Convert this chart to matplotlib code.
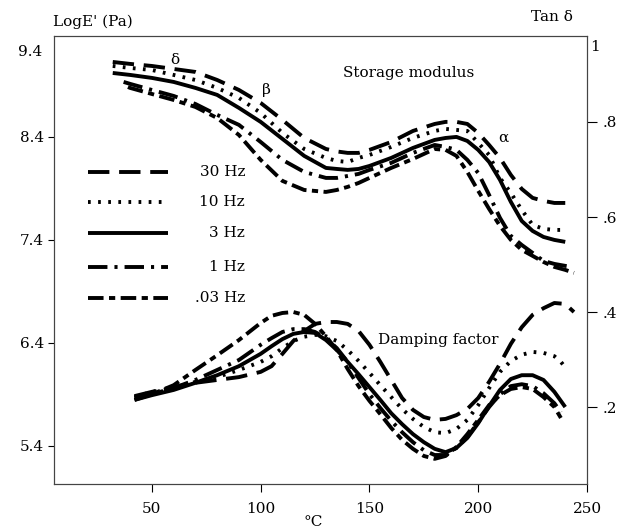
import matplotlib
matplotlib.use("Agg")
import matplotlib.pyplot as plt

# ---------------- data ----------------
# Storage modulus, log E' (Pa)  -- left axis
x_store = [32, 40, 50, 60, 70, 80, 90, 100, 110, 120, 130, 135, 140, 145, 150, 160, 170, 180,
           185, 190, 195, 200, 205, 210, 215, 220, 225, 230, 235, 240]
E_30 = [9.128, 9.109, 9.089, 9.060, 9.031, 8.953, 8.856, 8.730, 8.565, 8.390, 8.283, 8.259,
        8.245, 8.245, 8.274, 8.351, 8.458, 8.526, 8.546, 8.546, 8.526, 8.439, 8.322, 8.196,
        8.031, 7.895, 7.808, 7.779, 7.759, 7.759]
E_10 = [9.089, 9.070, 9.050, 9.002, 8.953, 8.876, 8.779, 8.633, 8.439, 8.283, 8.196, 8.167,
        8.157, 8.196, 8.225, 8.303, 8.390, 8.458, 8.478, 8.468, 8.458, 8.342, 8.225, 8.002,
        7.856, 7.691, 7.546, 7.507, 7.497, 7.497]
E_3 = [9.021, 9.002, 8.973, 8.934, 8.876, 8.808, 8.682, 8.546, 8.381, 8.216, 8.099, 8.089,
       8.080, 8.089, 8.118, 8.196, 8.293, 8.371, 8.390, 8.400, 8.361, 8.274, 8.157, 7.983,
       7.769, 7.584, 7.487, 7.429, 7.400, 7.381]
x_store_1 = [37, 40, 50, 60, 70, 80, 90, 100, 110, 120, 130, 135, 140, 145, 150, 160, 170, 180,
             185, 190, 195, 200, 205, 210, 215, 220, 225, 230, 235, 240, 243]
E_1 = [8.934, 8.915, 8.856, 8.798, 8.720, 8.614, 8.517, 8.351, 8.177, 8.060, 8.002, 8.002,
       8.021, 8.041, 8.080, 8.148, 8.245, 8.322, 8.303, 8.274, 8.177, 8.050, 7.837, 7.614,
       7.439, 7.351, 7.274, 7.196, 7.167, 7.148, 7.138]
x_store_003 = [39, 40, 50, 60, 70, 80, 90, 100, 110, 120, 130, 135, 140, 145, 150, 160, 170,
               180, 185, 190, 195, 200, 205, 210, 215, 220, 225, 230, 235, 240, 244]
E_003 = [8.885, 8.876, 8.817, 8.759, 8.691, 8.584, 8.419, 8.177, 7.973, 7.885, 7.866, 7.885,
         7.915, 7.953, 8.002, 8.099, 8.186, 8.283, 8.274, 8.216, 8.060, 7.876, 7.701, 7.536,
         7.400, 7.303, 7.245, 7.186, 7.138, 7.109, 7.080]

# Damping factor, tan delta -- right axis
x_damp = [42, 50, 60, 70, 80, 90, 100, 105, 110, 115, 120, 125, 130, 135, 140, 145, 150, 155,
          160, 165, 170, 175, 180, 185, 190, 195, 200, 205, 210, 215, 220, 225, 230, 235, 238]
T_003 = [0.215, 0.227, 0.246, 0.278, 0.309, 0.341, 0.377, 0.392, 0.398, 0.400, 0.394, 0.375,
         0.349, 0.320, 0.280, 0.244, 0.213, 0.185, 0.156, 0.131, 0.112, 0.097, 0.091, 0.097,
         0.116, 0.143, 0.173, 0.204, 0.225, 0.238, 0.242, 0.238, 0.221, 0.200, 0.177]
T_1 = [0.219, 0.227, 0.240, 0.257, 0.278, 0.299, 0.331, 0.345, 0.358, 0.364, 0.364, 0.358,
       0.345, 0.324, 0.295, 0.261, 0.227, 0.198, 0.171, 0.147, 0.126, 0.109, 0.099, 0.099,
       0.114, 0.137, 0.168, 0.200, 0.227, 0.244, 0.248, 0.244, 0.229, 0.208, 0.189]
x_damp_3 = [42, 50, 60, 70, 80, 90, 100, 105, 110, 115, 120, 125, 130, 135, 140, 145, 150, 155,
            160, 165, 170, 175, 180, 185, 190, 195, 200, 205, 210, 215, 220, 225, 230, 235, 240]
T_3 = [0.215, 0.225, 0.236, 0.251, 0.267, 0.286, 0.312, 0.328, 0.343, 0.354, 0.358, 0.356,
       0.341, 0.320, 0.295, 0.269, 0.242, 0.215, 0.187, 0.164, 0.143, 0.126, 0.112, 0.105,
       0.114, 0.135, 0.166, 0.202, 0.236, 0.259, 0.267, 0.267, 0.257, 0.232, 0.200]
x_damp_10 = [42, 50, 60, 70, 80, 90, 100, 105, 110, 115, 120, 125, 130, 135, 140, 145, 150,
             155, 160, 165, 170, 175, 180, 185, 190, 195, 200, 205, 210, 215, 220, 225, 230,
             235, 238, 241]
T_10 = [0.221, 0.232, 0.240, 0.253, 0.263, 0.278, 0.295, 0.307, 0.324, 0.339, 0.348, 0.352,
        0.349, 0.339, 0.320, 0.297, 0.272, 0.246, 0.221, 0.196, 0.175, 0.158, 0.147, 0.145,
        0.154, 0.173, 0.204, 0.240, 0.274, 0.297, 0.310, 0.316, 0.314, 0.307, 0.295, 0.278]
x_damp_30 = [42, 50, 60, 70, 80, 90, 100, 105, 110, 115, 120, 125, 130, 135, 140, 145, 150,
             155, 160, 165, 170, 175, 180, 185, 190, 195, 200, 205, 210, 215, 220, 225, 230,
             235, 240, 244]
T_30 = [0.223, 0.232, 0.242, 0.251, 0.257, 0.263, 0.274, 0.286, 0.312, 0.339, 0.360, 0.375,
        0.379, 0.379, 0.375, 0.360, 0.331, 0.295, 0.257, 0.219, 0.194, 0.179, 0.173, 0.175,
        0.183, 0.196, 0.219, 0.253, 0.291, 0.333, 0.368, 0.394, 0.408, 0.419, 0.417, 0.400]

legend_labels = ["30 Hz", "10 Hz", "3 Hz", "1 Hz", ".03 Hz"]
x_ticks = [50, 100, 150, 200, 250]
left_ticks = [8.4, 7.4, 6.4, 5.4]
right_ticks = [0.2, 0.4, 0.6, 0.8]
right_ticklabels = [".2", ".4", ".6", ".8"]

# ---------------- style ----------------
plt.rcParams['font.family'] = ['DejaVu Serif']
FS = 11
LW = 2.8
styles = {
    "30 Hz": dict(dashes=(5.5, 2.5)),
    "10 Hz": dict(dashes=(0.7, 1.9)),
    "3 Hz": dict(linestyle='-'),
    "1 Hz": dict(dashes=(5.0, 1.8, 0.8, 1.8)),
    ".03 Hz": dict(dashes=(4.0, 1.4, 1.6, 1.4)),
}

W, H = 621, 529
fig = plt.figure(figsize=(W / 100, H / 100), dpi=100)
ax = fig.add_axes([54 / W, 45 / H, 533 / W, 448 / H])
ax2 = ax.twinx()

def style(lbl):
    d = dict(color='black', lw=LW, dash_capstyle='butt', solid_capstyle='butt')
    d.update(styles[lbl])
    return d

ax.plot(x_store, E_30, **style("30 Hz"))
ax.plot(x_store, E_10, **style("10 Hz"))
ax.plot(x_store, E_3, **style("3 Hz"))
ax.plot(x_store_1, E_1, **style("1 Hz"))
ax.plot(x_store_003, E_003, **style(".03 Hz"))

ax2.plot(x_damp_30, T_30, **style("30 Hz"))
ax2.plot(x_damp_10, T_10, **style("10 Hz"))
ax2.plot(x_damp_3, T_3, **style("3 Hz"))
ax2.plot(x_damp, T_1, **style("1 Hz"))
ax2.plot(x_damp, T_003, **style(".03 Hz"))

ax.set_xlim(5, 250)
ax.set_ylim(5.03, 9.38)
ax2.set_ylim(0.038, 0.981)

ax.set_xticks(x_ticks)
ax.set_yticks(left_ticks)
ax.set_yticklabels([f"{v:.1f}" for v in left_ticks])
ax2.set_yticks(right_ticks)
ax2.set_yticklabels(right_ticklabels)

for a in (ax, ax2):
    for s in a.spines.values():
        s.set_linewidth(0.8)
        s.set_color('#444444')
ax.tick_params(axis='x', direction='out', length=6, width=0.8, pad=7, labelsize=FS)
ax.tick_params(axis='y', direction='out', length=4, width=0.8, pad=3, labelsize=FS)
ax2.tick_params(axis='y', direction='out', length=7, width=0.8, pad=4, labelsize=FS)

# extra top tick labels (drawn slightly below the frame top as in reference)
fig.text(42 / W, 1 - 52 / H, "9.4", ha='right', va='center', fontsize=FS)
fig.text(590 / W, 1 - 47 / H, "1", ha='left', va='center', fontsize=FS)

# axis titles
fig.text(53 / W, 1 - 22 / H, "LogE' (Pa)", ha='left', va='center', fontsize=FS)
fig.text(573 / W, 1 - 17 / H, "Tan δ", ha='right', va='center', fontsize=FS)
fig.text(313 / W, 1 - 522 / H, "°C", ha='center', va='center', fontsize=FS)

# annotations
ax.text(60.5, 9.15, "δ", ha='center', va='center', fontsize=FS)
ax.text(102.6, 8.86, "β", ha='center', va='center', fontsize=FS)
ax.text(211.6, 8.39, "α", ha='center', va='center', fontsize=FS)
ax.text(168, 9.02, "Storage modulus", ha='center', va='center', fontsize=FS)
ax2.text(181.8, 0.341, "Damping factor", ha='center', va='center', fontsize=FS)

# manual legend
leg_y = [172, 202, 233, 267, 298]
for lbl, py in zip(legend_labels, leg_y):
    yf = (484 - py) / 448
    ax.plot([(88 - 54) / 533, (168 - 54) / 533], [yf, yf], transform=ax.transAxes,
            **style(lbl))
    ax.text((245 - 54) / 533, yf, lbl, transform=ax.transAxes, ha='right', va='center',
            fontsize=FS)

fig.savefig("out.png", dpi=100)
